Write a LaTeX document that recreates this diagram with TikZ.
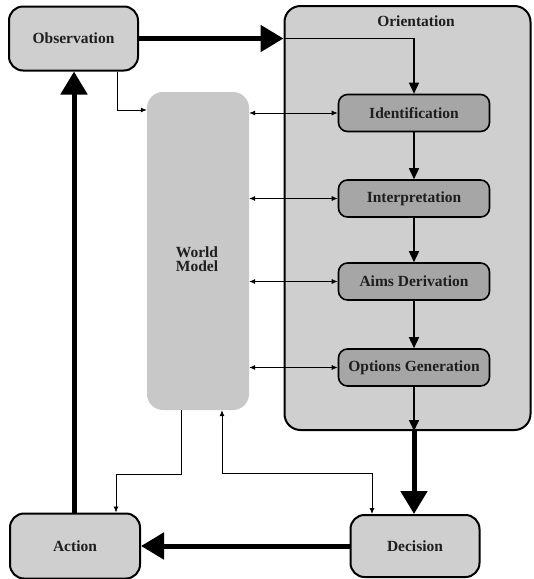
\documentclass[tikz,border=0pt]{standalone}
\usepackage{fontspec}
\setmainfont{Liberation Serif}
\usetikzlibrary{arrows.meta}
\definecolor{boxgray}{HTML}{CFCFCF}
\definecolor{subgray}{HTML}{A6A6A6}
\definecolor{modelgray}{HTML}{C8C8C8}
\definecolor{inkgray}{HTML}{1E1E1E}
\begin{document}
\begin{tikzpicture}[x=1pt,y=-1pt,
  labelfont/.style={font=\fontsize{15.5}{17}\selectfont\bfseries, text=inkgray},
  stage/.style={draw=black, line width=2pt, fill=boxgray, rounded corners=14pt,
    minimum width=129pt, minimum height=64pt, labelfont},
  substep/.style={draw=black, line width=1.6pt, fill=subgray, rounded corners=9pt,
    minimum width=151pt, minimum height=37pt, labelfont},
  bigarrow/.style={line width=5pt, -{Triangle[length=23pt,width=26pt]}},
  midarrow/.style={line width=1.6pt, -{Triangle[length=11pt,width=10pt]}},
  thinarrow/.style={line width=0.8pt, -{Latex[length=6pt,width=5pt]}},
  thinboth/.style={line width=0.8pt, {Latex[length=6pt,width=5pt]}-{Latex[length=6pt,width=5pt]}},
]
\useasboundingbox (0,0) rectangle (534,579);

% Orientation container
\node[draw=black, line width=2pt, fill=boxgray, rounded corners=16pt,
  minimum width=246pt, minimum height=424pt] (ori) at (407.5,218) {};
\node[labelfont] (orilabel) at (416,21) {Orientation};

% World model
\node[fill=modelgray, rounded corners=16pt, minimum width=102pt, minimum height=318pt] (wm) at (198,251) {};
\node[labelfont, align=center] (wmlabel) at (197,259) {World\\[-3pt]Model};

% Outer stages
\node[stage] (obs) at (73.5,38.5) {Observation};
\node[stage, minimum width=130pt, minimum height=65pt] (act) at (75,546) {Action};
\node[stage, minimum height=62pt] (dec) at (415,546) {Decision};

% Orientation steps
\node[substep] (id) at (414,113) {Identification};
\node[substep] (interp) at (414,198.5) {Interpretation};
\node[substep] (aims) at (414,281.5) {Aims Derivation};
\node[substep] (opts) at (414,367.5) {Options Generation};

% Main loop
\coordinate (oriin) at (ori.west |- obs.east);
\coordinate (oriout) at (opts.south |- ori.south);
\draw[bigarrow] (obs.east) -- (oriin);
\draw[midarrow] (oriin) -| (id.north);
\draw[midarrow] (id) -- (interp);
\draw[midarrow] (interp) -- (aims);
\draw[midarrow] (aims) -- (opts);
\draw[midarrow] (opts) -- (oriout);
\draw[bigarrow] (oriout) -- (oriout |- dec.north);
\draw[bigarrow] (dec.west) -- (dec.west -| act.east);
\draw[bigarrow] (act.north -| 74,0) -- (obs.south -| 74,0);

% World model links
\coordinate (obstap) at ([xshift=43.5pt]obs.south);
\coordinate (wmin) at ([yshift=141pt]wm.west);
\draw[thinarrow] (obstap) |- (wmin);
\draw[thinboth] (wm.east |- id.west) -- (id.west);
\draw[thinboth] (wm.east |- interp.west) -- (interp.west);
\draw[thinboth] (wm.east |- aims.west) -- (aims.west);
\draw[thinboth] (wm.east |- opts.west) -- (opts.west);
\draw[thinarrow] ([xshift=-17pt]wm.south) -- ++(0,64) -| ([xshift=41pt]act.north);
\draw[thinboth] ([xshift=24pt]wm.south) -- ++(0,63) -| ([xshift=-43pt]dec.north);
\end{tikzpicture}
\end{document}
